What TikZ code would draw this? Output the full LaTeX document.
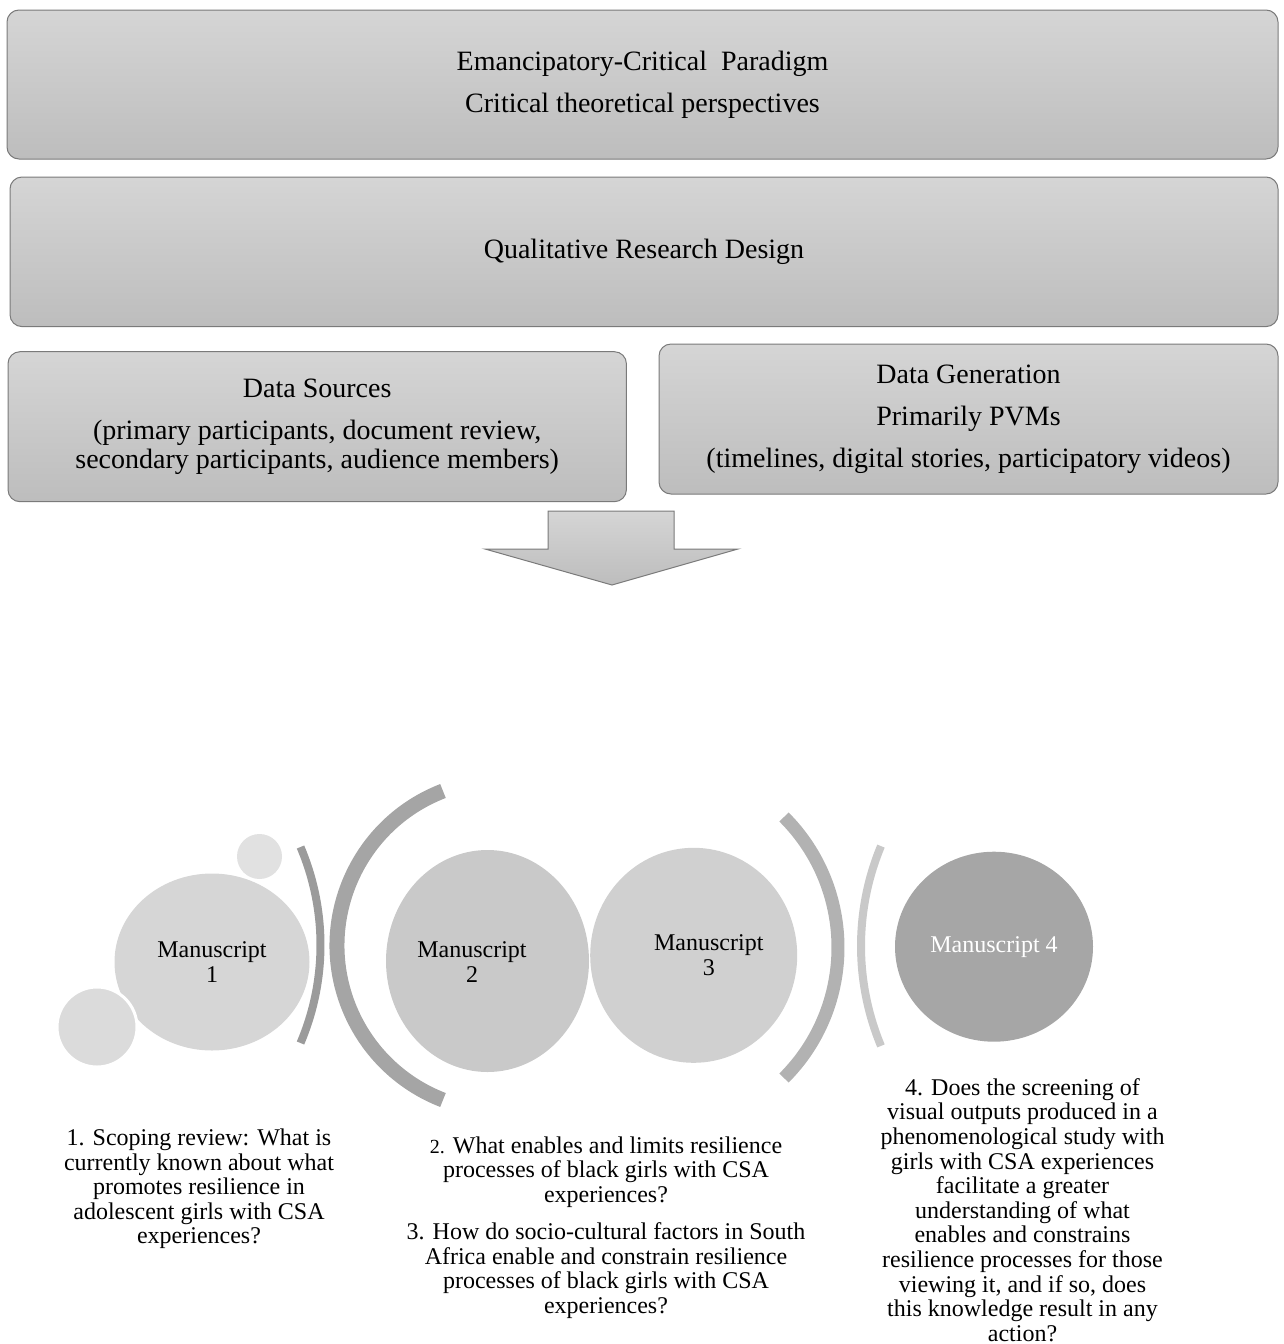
\documentclass[tikz,border=0pt]{standalone}
\usepackage{fontspec}
\setmainfont{Liberation Serif}
\usetikzlibrary{shapes.geometric}
\definecolor{paneltop}{HTML}{D5D5D5}
\definecolor{panelbot}{HTML}{BDBDBD}
\definecolor{paneledge}{HTML}{7A7A7A}
\begin{document}
\begin{tikzpicture}[x=0.5pt,y=-0.5pt,every node/.style={font=\fontsize{12}{12.3}\selectfont},
  panel/.style={draw=paneledge,line width=0.5pt,rounded corners=6pt,top color=paneltop,bottom color=panelbot,
    align=center,inner sep=0pt,font=\fontsize{14}{21}\selectfont},
  msc/.style={ellipse,inner sep=0pt},
  msclabel/.style={align=center,inner sep=0pt,font=\fontsize{12}{12.5}\selectfont},
  question/.style={align=center,inner sep=0pt}]
  \useasboundingbox (0,0) rectangle (1284,1344);

  % panels
  \node[panel,minimum width=635.5pt,minimum height=74.5pt] (paradigm) at (642.5,84.5)
    {Emancipatory-Critical\ \ Paradigm\\Critical theoretical perspectives};
  \node[panel,minimum width=634pt,minimum height=74.8pt] (design) at (644,251.8)
    {Qualitative Research Design};
  \node[panel,minimum width=309.2pt,minimum height=75pt,font=\fontsize{14}{14.5}\selectfont] (sources) at (317.2,426.7)
    {Data Sources\\[6.5pt](primary participants, document review,\\secondary participants, audience members)};
  \node[panel,minimum width=309.5pt,minimum height=75pt] (generation) at (968.5,419)
    {Data Generation\\Primarily PVMs\\(timelines, digital stories, participatory videos)};

  % block arrow
  \draw[draw=paneledge,line width=0.5pt,top color=paneltop,bottom color=panelbot]
    (548,511) -- (674,511) -- (674,549) -- (738,549) -- (612,585) -- (485,549) -- (548,549) -- cycle;

  % manuscripts
  \node[msc,fill={rgb,255:red,214;green,214;blue,214},minimum width=97.5pt,minimum height=88.5pt] (msc1) at (212,962) {};
  \node[msc,fill={rgb,255:red,225;green,225;blue,225},minimum width=22.5pt,minimum height=22.5pt] (dotA) at (259.5,856.5) {};
  \node[msc,fill={rgb,255:red,219;green,219;blue,219},draw=white,line width=1.5pt,minimum width=40pt,minimum height=40pt] (dotB) at (97,1027) {};
  \node[msc,fill={rgb,255:red,201;green,201;blue,201},minimum width=101.5pt,minimum height=111pt] (msc2) at (487.5,961) {};
  \node[msc,fill={rgb,255:red,208;green,208;blue,208},minimum width=103.5pt,minimum height=107.5pt] (msc3) at (693.7,955.3) {};
  \node[msc,fill={rgb,255:red,166;green,166;blue,166},minimum width=99pt,minimum height=95pt] (msc4) at (994,946.7) {};

  \node[msclabel] (lab1) at (212,962) {Manuscript\\1};
  \node[msclabel] (lab2) at (472,962.5) {Manuscript\\2};
  \node[msclabel] (lab3) at (708.8,955.5) {Manuscript\\3};
  \node[msclabel,text=white] (lab4) at (994,946.7) {Manuscript 4};

  % brackets
  \draw[line width=4pt,color={rgb,255:red,155;green,155;blue,155}]
    (70.4,945) ++(-23.07:125.05pt) arc[start angle=-23.07,end angle=23.07,radius=125.05pt];
  \draw[line width=7.5pt,color={rgb,255:red,165;green,165;blue,165}]
    (502.6,945.5) ++(111.1:82.8pt) arc[start angle=111.1,end angle=248.9,radius=82.8pt];
  \draw[line width=6.5pt,color={rgb,255:red,178;green,178;blue,178}]
    (653.3,947.5) ++(-44.96:92.35pt) arc[start angle=-44.96,end angle=44.96,radius=92.35pt];
  \draw[line width=4pt,color={rgb,255:red,201;green,201;blue,201}]
    (1121,946) ++(157.4:130pt) arc[start angle=157.4,end angle=202.6,radius=130pt];

  % research questions
  \node[question] (q1) at (199,1189)
    {1. Scoping review: What is\\currently known about what\\promotes resilience in\\adolescent girls with CSA\\experiences?};
  \node[question] (q2) at (606,1172)
    {{\fontsize{10}{12}\selectfont 2.} What enables and limits resilience\\processes of black girls with CSA\\experiences?};
  \node[question] (q3) at (606,1270.5)
    {3. How do socio-cultural factors in South\\Africa enable and constrain resilience\\processes of black girls with CSA\\experiences?};
  \node[question] (q4) at (1022.5,1210)
    {4. Does the screening of\\visual outputs produced in a\\phenomenological study with\\girls with CSA experiences\\facilitate a greater\\understanding of what\\enables and constrains\\resilience processes for those\\viewing it, and if so, does\\this knowledge result in any\\action?};
\end{tikzpicture}
\end{document}
